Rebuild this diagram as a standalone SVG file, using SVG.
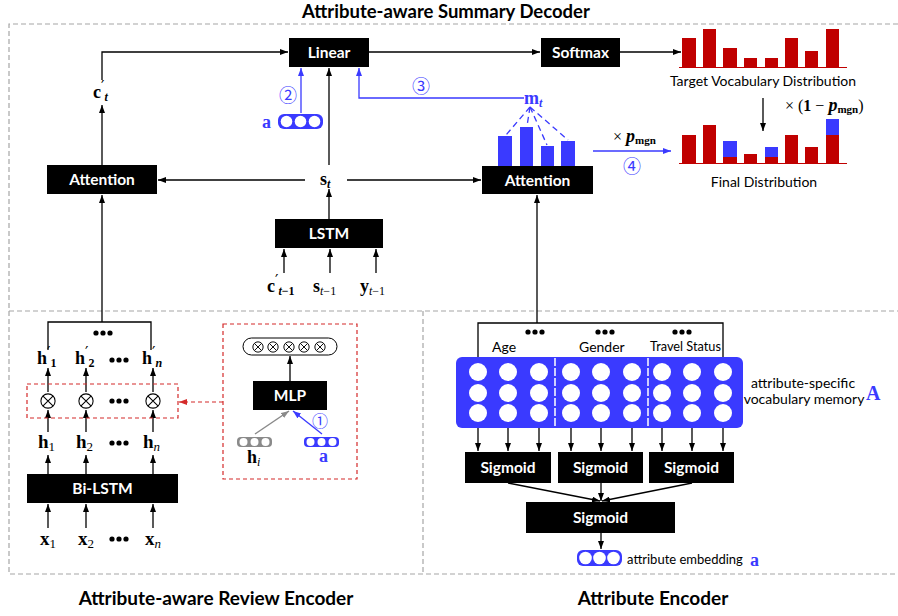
<svg xmlns="http://www.w3.org/2000/svg" width="898" height="616" viewBox="0 0 898 616">
<defs>
  <marker id="ak" viewBox="0 0 8 6" refX="8" refY="3" markerWidth="8" markerHeight="6" markerUnits="userSpaceOnUse" orient="auto"><path d="M0,0L8,3L0,6z" fill="#000"/></marker>
  <marker id="ab" viewBox="0 0 8 6" refX="8" refY="3" markerWidth="8" markerHeight="6" markerUnits="userSpaceOnUse" orient="auto"><path d="M0,0L8,3L0,6z" fill="#3a3aff"/></marker>
  <marker id="ar" viewBox="0 0 8 6" refX="8" refY="3" markerWidth="8" markerHeight="6" markerUnits="userSpaceOnUse" orient="auto"><path d="M0,0L8,3L0,6z" fill="#d42a2a"/></marker>
  <marker id="ag" viewBox="0 0 8 6" refX="8" refY="3" markerWidth="8" markerHeight="6" markerUnits="userSpaceOnUse" orient="auto"><path d="M0,0L8,3L0,6z" fill="#8a8a8a"/></marker>
  <symbol id="otimes" viewBox="-9 -9 18 18" overflow="visible">
    <circle r="8" fill="#fff" stroke="#000" stroke-width="1.2"/>
    <path d="M-5.6,-5.6L5.6,5.6M-5.6,5.6L5.6,-5.6" stroke="#000" stroke-width="1.2"/>
  </symbol>
  <symbol id="otsm" viewBox="-7 -7 14 14" overflow="visible">
    <circle r="6" fill="#fff" stroke="#000" stroke-width="1.1"/>
    <path d="M-4.2,-4.2L4.2,4.2M-4.2,4.2L4.2,-4.2" stroke="#000" stroke-width="1.1"/>
  </symbol>
  <g id="dots"><circle cx="-7" cy="0" r="2.6"/><circle cx="0" cy="0" r="2.6"/><circle cx="7" cy="0" r="2.6"/></g>
</defs>
<style>
  .frame{fill:none;stroke:#a6a6a6;stroke-width:1.2;stroke-dasharray:5 3}
  .box{fill:#000}
  .bt{font-family:Lato,'Liberation Sans',sans-serif;font-weight:bold;font-size:15.5px;fill:#fff;text-anchor:middle}
  .ttl{font-family:Lato,'Liberation Sans',sans-serif;font-weight:bold;font-size:19px;fill:#000;text-anchor:middle}
  .lbl{font-family:Lato,'Liberation Sans',sans-serif;font-size:14px;fill:#000}
  .m{font-family:'Liberation Serif','DejaVu Serif',serif;font-weight:bold;font-size:18px;fill:#000}
  .pr{font-family:'DejaVu Sans',sans-serif;font-weight:normal;font-size:15px}
  .sub{font-size:12px}
  .it{font-style:italic}
  .num{font-family:'Noto Sans CJK SC','DejaVu Sans',sans-serif;font-size:18px;fill:#3a3aff;text-anchor:middle}
  .ln{fill:none;stroke:#000;stroke-width:1.3}
  .arr{marker-end:url(#ak)}
  .bln{fill:none;stroke:#3a3aff;stroke-width:1.3}
  .red{fill:#c00000}
  .blu{fill:#3a3aff}
  .wc{fill:#fff}
</style>

<rect width="898" height="616" fill="#fff"/>

<!-- section frames -->
<g id="frames">
  <path class="frame" d="M898,24H9V574H898M9,311H898M423,311V574"/>
</g>

<!-- section titles -->
<g id="titles">
  <text class="ttl" x="446" y="18" style="font-size:18.5px">Attribute-aware Summary Decoder</text>
  <text class="ttl" x="216" y="605">Attribute-aware Review Encoder</text>
  <text class="ttl" x="653" y="605">Attribute Encoder</text>
</g>

<!-- connectors -->
<g id="connectors">
  <path class="ln arr" d="M102,80V52H288"/>
  <path class="ln arr" d="M102,165V105"/>
  <path class="ln arr" d="M102,322V195"/>
  <path class="ln" d="M48,350V322H151V350"/>
  <path class="ln arr" d="M329,165V68"/>
  <path class="bln" marker-end="url(#ab)" d="M301,113V68"/>
  <path class="bln" marker-end="url(#ab)" d="M524,98H359V68"/>
  <path class="ln arr" d="M369,52H540"/>
  <path class="ln arr" d="M620,52H681"/>
  <path class="ln arr" d="M763,98V131"/>
  <path class="bln" marker-end="url(#ab)" d="M593,151H671"/>
  <path class="ln arr" d="M305,180H158"/>
  <path class="ln arr" d="M347,180H481"/>
  <path class="ln arr" d="M329,219V189"/>
  <path class="ln arr" d="M284,273V249"/>
  <path class="ln arr" d="M330,273V249"/>
  <path class="ln arr" d="M376,273V249"/>
  <path class="ln arr" d="M537,323V195"/>
  <path class="ln" d="M478,362V323H723V362"/>
  <g class="ln arr">
    <path d="M478,428V451"/><path d="M508,428V451"/><path d="M539,428V451"/>
    <path d="M571,428V451"/><path d="M601,428V451"/><path d="M632,428V451"/>
    <path d="M662,428V451"/><path d="M692,428V451"/><path d="M723,428V451"/>
  </g>
  <path class="ln arr" d="M508,483L600,501"/>
  <path class="ln arr" d="M601,483V501"/>
  <path class="ln arr" d="M692,483L602,501"/>
  <path class="ln arr" d="M601,533V549"/>
  <g class="ln arr">
    <path d="M48,392V368"/><path d="M86,392V368"/><path d="M153,392V368"/>
    <path d="M48,432V410"/><path d="M86,432V410"/><path d="M153,432V410"/>
    <path d="M48,474V455"/><path d="M86,474V455"/><path d="M153,474V455"/>
    <path d="M48,528V504"/><path d="M86,528V504"/><path d="M153,528V504"/>
  </g>
  <path class="ln arr" d="M290,381V356"/>
  <path d="M255,434L289,411" fill="none" stroke="#8a8a8a" stroke-width="1.5" marker-end="url(#ag)"/>
  <path class="bln" marker-end="url(#ab)" d="M322,434L293,411"/>
  <path d="M223,402H179" fill="none" stroke="#d42a2a" stroke-width="1.2" stroke-dasharray="4 3" marker-end="url(#ar)"/>
  <g class="bln" stroke-dasharray="6 4">
    <path d="M530,107L506,135"/><path d="M530,107L527,126"/>
    <path d="M530,107L547,145"/><path d="M530,107L568,140"/>
  </g>
</g>

<!-- decoder -->
<g id="linear"><rect class="box" x="289" y="38" width="80" height="29"/><text class="bt" x="329" y="57.5">Linear</text></g>
<g id="softmax"><rect class="box" x="541" y="38" width="79" height="29"/><text class="bt" x="580.5" y="57.5">Softmax</text></g>
<g id="attention-left"><rect class="box" x="47" y="165" width="110" height="29"/><text class="bt" x="102" y="185">Attention</text></g>
<g id="attention-right"><rect class="box" x="482" y="166" width="111" height="28"/><text class="bt" x="537.5" y="185.5">Attention</text></g>
<g id="lstm"><rect class="box" x="275" y="219" width="108" height="29"/><text class="bt" x="329" y="239">LSTM</text></g>

<g id="context-label">
  <text class="m" x="93" y="98">c<tspan class="pr" dy="-6">′</tspan><tspan class="sub it" dy="9">t</tspan></text>
</g>
<g id="state-label"><text class="m" x="320" y="185">s<tspan class="sub it" dy="3">t</tspan></text></g>
<g id="lstm-inputs">
  <text class="m" x="267" y="292">c<tspan class="pr" dy="-6">′</tspan><tspan class="sub" dy="9"><tspan class="it">t</tspan>−1</tspan></text>
  <text class="m" x="313" y="292">s<tspan class="sub" dy="3" style="font-weight:normal"><tspan class="it">t</tspan>−1</tspan></text>
  <text class="m" x="360" y="292">y<tspan class="sub" dy="3" style="font-weight:normal"><tspan class="it">t</tspan>−1</tspan></text>
</g>

<g id="attr-vector-dec">
  <text class="m" x="262" y="128" style="fill:#3a3aff">a</text>
  <rect class="blu" x="278" y="114" width="45" height="15" rx="6"/>
  <circle class="wc" cx="286.5" cy="121.5" r="5.8"/><circle class="wc" cx="300.5" cy="121.5" r="5.8"/><circle class="wc" cx="314.5" cy="121.5" r="5.8"/>
  <text class="num" x="288" y="102">②</text>
</g>
<text class="num" x="421" y="93">③</text>

<g id="memory-attn">
  <text class="m" x="524" y="104" style="fill:#3a3aff">m<tspan class="sub it" dy="3">t</tspan></text>
  <rect class="blu" x="498" y="136" width="14" height="30"/>
  <rect class="blu" x="520" y="127" width="13" height="39"/>
  <rect class="blu" x="541" y="146" width="13" height="20"/>
  <rect class="blu" x="561" y="141" width="14" height="25"/>
</g>

<g id="pmgn">
  <text class="m" x="613" y="142" style="font-weight:normal;font-size:16px">× <tspan class="it" style="font-weight:bold;font-size:18px">p</tspan><tspan class="sub" dy="2" style="font-weight:bold;font-size:11px">mgn</tspan></text>
  <text class="num" x="632" y="173">④</text>
</g>

<g id="target-dist">
  <rect class="red" x="682" y="38" width="14" height="29"/>
  <rect class="red" x="703" y="29" width="13" height="38"/>
  <rect class="red" x="723" y="48" width="14" height="19"/>
  <rect class="red" x="744" y="58" width="13" height="9"/>
  <rect class="red" x="765" y="58" width="13" height="9"/>
  <rect class="red" x="785" y="38" width="13" height="29"/>
  <rect class="red" x="805" y="51" width="13" height="16"/>
  <rect class="red" x="826" y="29" width="13" height="38"/>
  <path d="M679,67.5H847" stroke="#c00000" stroke-width="1.2"/>
  <text class="lbl" x="763" y="86" text-anchor="middle">Target Vocabulary Distribution</text>
</g>
<g id="one-minus-pmgn">
  <text class="m" x="785" y="111" style="font-weight:normal;font-size:16px">× (<tspan style="font-weight:bold">1</tspan> − <tspan class="it" style="font-weight:bold;font-size:18px">p</tspan><tspan class="sub" dy="2" style="font-weight:bold;font-size:11px">mgn</tspan><tspan dy="-2">)</tspan></text>
</g>
<g id="final-dist">
  <rect class="red" x="682" y="135" width="14" height="28"/>
  <rect class="red" x="703" y="125" width="13" height="38"/>
  <rect class="blu" x="723" y="141" width="14" height="16"/><rect class="red" x="723" y="157" width="14" height="6"/>
  <rect class="red" x="744" y="154" width="13" height="9"/>
  <rect class="blu" x="765" y="147" width="13" height="10"/><rect class="red" x="765" y="157" width="13" height="6"/>
  <rect class="red" x="785" y="135" width="13" height="28"/>
  <rect class="red" x="805" y="147" width="13" height="16"/>
  <rect class="blu" x="826" y="119" width="13" height="16"/><rect class="red" x="826" y="135" width="13" height="28"/>
  <path d="M679,163.5H847" stroke="#c00000" stroke-width="1.2"/>
  <text class="lbl" x="764" y="187" text-anchor="middle">Final Distribution</text>
</g>

<!-- review encoder -->
<use href="#dots" x="103" y="333"/>
<g id="h-prime">
  <text class="m" x="37" y="364">h<tspan class="pr" dy="-6">′</tspan><tspan class="sub" dy="9">1</tspan></text>
  <text class="m" x="75" y="364">h<tspan class="pr" dy="-6">′</tspan><tspan class="sub" dy="9">2</tspan></text>
  <use href="#dots" x="119" y="360"/>
  <text class="m" x="142" y="364">h<tspan class="pr" dy="-6">′</tspan><tspan class="sub it" dy="9">n</tspan></text>
</g>
<g id="gate-row">
  <rect x="27" y="384" width="151" height="34" fill="none" stroke="#d42a2a" stroke-width="1.2" stroke-dasharray="4 3"/>
  <use href="#otimes" x="40" y="393" width="16" height="16"/>
  <use href="#otimes" x="78" y="393" width="16" height="16"/>
  <use href="#dots" x="119" y="401"/>
  <use href="#otimes" x="145" y="393" width="16" height="16"/>
</g>
<g id="h-states">
  <text class="m" x="38" y="448" style="font-size:19px">h<tspan class="sub" dy="3" style="font-weight:normal;font-size:13px">1</tspan></text>
  <text class="m" x="76" y="448" style="font-size:19px">h<tspan class="sub" dy="3" style="font-weight:normal;font-size:13px">2</tspan></text>
  <use href="#dots" x="119" y="443"/>
  <text class="m" x="143" y="448" style="font-size:19px">h<tspan class="sub it" dy="3" style="font-weight:normal;font-size:13px">n</tspan></text>
</g>
<g id="bilstm"><rect class="box" x="27" y="474" width="151" height="29"/><text class="bt" x="102.5" y="494">Bi-LSTM</text></g>
<g id="x-inputs">
  <text class="m" x="40" y="545" style="font-size:19px">x<tspan class="sub" dy="3" style="font-weight:normal;font-size:13px">1</tspan></text>
  <text class="m" x="78" y="545" style="font-size:19px">x<tspan class="sub" dy="3" style="font-weight:normal;font-size:13px">2</tspan></text>
  <use href="#dots" x="119" y="539"/>
  <text class="m" x="145" y="545" style="font-size:19px">x<tspan class="sub it" dy="3" style="font-weight:normal;font-size:13px">n</tspan></text>
</g>

<g id="gate-mlp">
  <rect x="223" y="324" width="134" height="155" fill="none" stroke="#d42a2a" stroke-width="1.2" stroke-dasharray="4 3"/>
  <rect x="243" y="338" width="94" height="17" rx="8.5" fill="#fff" stroke="#000" stroke-width="1"/>
  <use href="#otsm" x="252" y="341" width="12" height="12"/>
  <use href="#otsm" x="267" y="341" width="12" height="12"/>
  <use href="#otsm" x="283" y="341" width="12" height="12"/>
  <use href="#otsm" x="298" y="341" width="12" height="12"/>
  <use href="#otsm" x="314" y="341" width="12" height="12"/>
  <rect class="box" x="253" y="381" width="74" height="29"/><text class="bt" x="290" y="401">MLP</text>
  <rect x="237" y="437" width="35" height="10" rx="4" fill="#8a8a8a"/>
  <circle class="wc" cx="243.5" cy="442" r="4"/><circle class="wc" cx="254.5" cy="442" r="4"/><circle class="wc" cx="265.5" cy="442" r="4"/>
  <rect class="blu" x="304" y="437" width="35" height="10" rx="4"/>
  <circle class="wc" cx="310.5" cy="442" r="4"/><circle class="wc" cx="321.5" cy="442" r="4"/><circle class="wc" cx="332.5" cy="442" r="4"/>
  <text class="m" x="247" y="463">h<tspan class="sub it" dy="3" style="font-weight:normal">i</tspan></text>
  <text class="m" x="319" y="462" style="fill:#3a3aff">a</text>
  <text class="num" x="320" y="427" style="font-size:16px">①</text>
</g>

<!-- attribute encoder -->
<g id="attr-labels">
  <use href="#dots" x="535" y="332"/><use href="#dots" x="605" y="332"/><use href="#dots" x="682" y="332"/>
  <text class="lbl" x="492" y="352">Age</text>
  <text class="lbl" x="579" y="352">Gender</text>
  <text class="lbl" x="650" y="351" textLength="71" lengthAdjust="spacingAndGlyphs">Travel Status</text>
</g>
<g id="vocab-memory">
  <rect class="blu" x="456" y="357" width="287" height="71" rx="6"/>
  <g class="wc">
    <circle cx="478" cy="372" r="9"/><circle cx="508" cy="372" r="9"/><circle cx="539" cy="372" r="9"/>
    <circle cx="571" cy="372" r="9"/><circle cx="601" cy="372" r="9"/><circle cx="632" cy="372" r="9"/>
    <circle cx="662" cy="372" r="9"/><circle cx="692" cy="372" r="9"/><circle cx="723" cy="372" r="9"/>
    <circle cx="478" cy="393" r="9"/><circle cx="508" cy="393" r="9"/><circle cx="539" cy="393" r="9"/>
    <circle cx="571" cy="393" r="9"/><circle cx="601" cy="393" r="9"/><circle cx="632" cy="393" r="9"/>
    <circle cx="662" cy="393" r="9"/><circle cx="692" cy="393" r="9"/><circle cx="723" cy="393" r="9"/>
    <circle cx="478" cy="413" r="9"/><circle cx="508" cy="413" r="9"/><circle cx="539" cy="413" r="9"/>
    <circle cx="571" cy="413" r="9"/><circle cx="601" cy="413" r="9"/><circle cx="632" cy="413" r="9"/>
    <circle cx="662" cy="413" r="9"/><circle cx="692" cy="413" r="9"/><circle cx="723" cy="413" r="9"/>
  </g>
  <path d="M555,358V428M648,358V428" stroke="#fff" stroke-width="1.5" stroke-dasharray="8 2"/>
  <text class="lbl" x="803" y="388" text-anchor="middle">attribute-specific</text>
  <text class="lbl" x="804" y="404" text-anchor="middle">vocabulary memory</text>
  <text class="m" x="866" y="400" style="fill:#3a3aff;font-size:20px">A</text>
</g>
<g id="sigmoid-age"><rect class="box" x="465" y="452" width="86" height="31"/><text class="bt" x="508" y="473">Sigmoid</text></g>
<g id="sigmoid-gender"><rect class="box" x="558" y="452" width="85" height="31"/><text class="bt" x="600.5" y="473">Sigmoid</text></g>
<g id="sigmoid-travel"><rect class="box" x="649" y="452" width="85" height="31"/><text class="bt" x="691.5" y="473">Sigmoid</text></g>
<g id="sigmoid-merge"><rect class="box" x="526" y="502" width="149" height="31"/><text class="bt" x="600.5" y="523">Sigmoid</text></g>
<g id="attr-embedding">
  <rect class="blu" x="577" y="550" width="45" height="16" rx="6"/>
  <circle class="wc" cx="585.5" cy="558" r="6.3"/><circle class="wc" cx="599.5" cy="558" r="6.3"/><circle class="wc" cx="613.5" cy="558" r="6.3"/>
  <text class="lbl" x="627" y="564" style="font-size:13px">attribute embedding</text>
  <text class="m" x="750" y="566" style="fill:#3a3aff">a</text>
</g>
</svg>
